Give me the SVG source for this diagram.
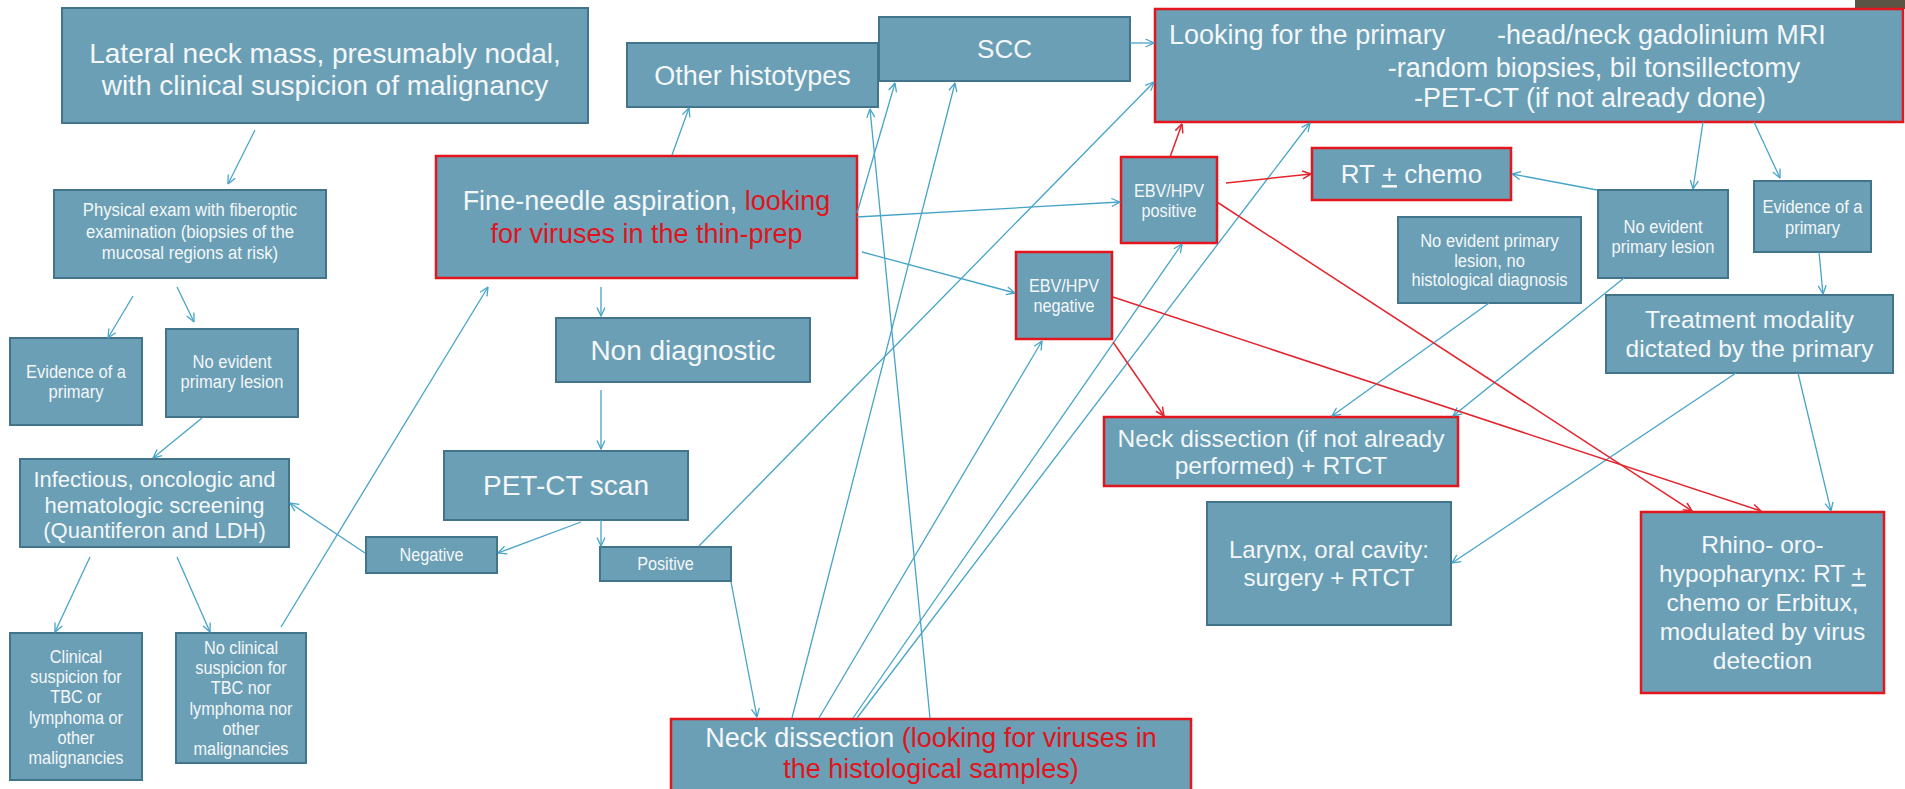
<svg xmlns="http://www.w3.org/2000/svg" width="1905" height="789" viewBox="0 0 1905 789">
<defs>
<style>
.box{fill:#6b9fb5;stroke:#42748c;stroke-width:2}
.rbox{fill:#6b9fb5;stroke:#e3151d;stroke-width:2.5}
.t{font-family:"Liberation Sans",Arial,sans-serif;fill:#f4f7f9}
.r{fill:#e0141c}
.u{text-decoration:underline}
.cb{stroke:#46a4c8;stroke-width:1.3;fill:none;marker-end:url(#ab)}
.cr{stroke:#e3252d;stroke-width:1.5;fill:none;marker-end:url(#ar)}
</style>
<marker id="ab" viewBox="0 0 10 10" refX="9.5" refY="5" markerWidth="10" markerHeight="10" markerUnits="userSpaceOnUse" orient="auto"><path d="M1,1 L9.5,5 L1,9" fill="none" stroke="#46a4c8" stroke-width="1.3"/></marker>
<marker id="ar" viewBox="0 0 10 10" refX="9.5" refY="5" markerWidth="10" markerHeight="10" markerUnits="userSpaceOnUse" orient="auto"><path d="M1,1 L9.5,5 L1,9" fill="none" stroke="#e3252d" stroke-width="1.5"/></marker>
</defs>
<rect x="0" y="0" width="1905" height="789" fill="#ffffff"/>
<rect x="1855" y="0" width="50" height="9" fill="#5b5444"/>

<g id="lateral"><rect class="box" x="62" y="8" width="526" height="115"/>
<text class="t" font-size="28" text-anchor="middle"><tspan x="325" y="63">Lateral neck mass, presumably nodal,</tspan><tspan x="325" y="95">with clinical suspicion of malignancy</tspan></text></g>

<g id="physical"><rect class="box" x="54" y="190" width="272" height="88"/>
<text class="t" font-size="19" text-anchor="middle" transform="translate(190 0) scale(0.88 1)"><tspan x="0" y="216">Physical exam with fiberoptic</tspan><tspan x="0" y="238">examination (biopsies of the</tspan><tspan x="0" y="259">mucosal regions at risk)</tspan></text></g>

<g id="evidence-left"><rect class="box" x="10" y="338" width="132" height="87"/>
<text class="t" font-size="19" text-anchor="middle" transform="translate(76 0) scale(0.87 1)"><tspan x="0" y="378">Evidence of a</tspan><tspan x="0" y="398">primary</tspan></text></g>

<g id="noevident-left"><rect class="box" x="166" y="329" width="132" height="88"/>
<text class="t" font-size="19" text-anchor="middle" transform="translate(232 0) scale(0.87 1)"><tspan x="0" y="368">No evident</tspan><tspan x="0" y="388">primary lesion</tspan></text></g>

<g id="infectious"><rect class="box" x="20" y="459" width="269" height="88"/>
<text class="t" font-size="22" text-anchor="middle"><tspan x="154.5" y="487">Infectious, oncologic and</tspan><tspan x="154.5" y="513">hematologic screening</tspan><tspan x="154.5" y="538">(Quantiferon and LDH)</tspan></text></g>

<g id="clinical"><rect class="box" x="10" y="633" width="132" height="147"/>
<text class="t" font-size="18.5" text-anchor="middle" transform="translate(76 0) scale(0.88 1)"><tspan x="0" y="663">Clinical</tspan><tspan x="0" y="683">suspicion for</tspan><tspan x="0" y="703">TBC or</tspan><tspan x="0" y="724">lymphoma or</tspan><tspan x="0" y="744">other</tspan><tspan x="0" y="764">malignancies</tspan></text></g>

<g id="noclinical"><rect class="box" x="176" y="633" width="130" height="130"/>
<text class="t" font-size="18.5" text-anchor="middle" transform="translate(241 0) scale(0.88 1)"><tspan x="0" y="654">No clinical</tspan><tspan x="0" y="674">suspicion for</tspan><tspan x="0" y="694">TBC nor</tspan><tspan x="0" y="715">lymphoma nor</tspan><tspan x="0" y="735">other</tspan><tspan x="0" y="755">malignancies</tspan></text></g>

<g id="fna"><rect class="rbox" x="436" y="156" width="421" height="122"/>
<text class="t" font-size="27" text-anchor="middle"><tspan x="646.5" y="210">Fine-needle aspiration, <tspan class="r">looking</tspan></tspan><tspan class="r" x="646.5" y="243">for viruses in the thin-prep</tspan></text></g>

<g id="other"><rect class="box" x="627" y="43" width="251" height="64"/>
<text class="t" font-size="27" text-anchor="middle" x="752.5" y="85">Other histotypes</text></g>

<g id="scc"><rect class="box" x="879" y="17" width="251" height="64"/>
<text class="t" font-size="26" text-anchor="middle" x="1004.5" y="58">SCC</text></g>

<g id="nondiag"><rect class="box" x="556" y="318" width="254" height="64"/>
<text class="t" font-size="28" text-anchor="middle" x="683" y="360">Non diagnostic</text></g>

<g id="petct"><rect class="box" x="444" y="451" width="244" height="69"/>
<text class="t" font-size="28" text-anchor="middle" x="566" y="495">PET-CT scan</text></g>

<g id="negative"><rect class="box" x="366" y="537" width="131" height="36"/>
<text class="t" font-size="18" text-anchor="middle" transform="translate(431.5 0) scale(0.9 1)" x="0" y="561">Negative</text></g>

<g id="positive"><rect class="box" x="600" y="547" width="131" height="34"/>
<text class="t" font-size="18" text-anchor="middle" transform="translate(665.5 0) scale(0.9 1)" x="0" y="570">Positive</text></g>

<g id="neckdiss"><rect class="rbox" x="671" y="719" width="520" height="82"/>
<text class="t" font-size="27" text-anchor="middle"><tspan x="931" y="747">Neck dissection <tspan class="r">(looking for viruses in</tspan></tspan><tspan class="r" x="931" y="778">the histological samples)</tspan></text></g>

<g id="ebvpos"><rect class="rbox" x="1121" y="157" width="96" height="86"/>
<text class="t" font-size="18" text-anchor="middle" transform="translate(1169 0) scale(0.9 1)"><tspan x="0" y="197">EBV/HPV</tspan><tspan x="0" y="217">positive</tspan></text></g>

<g id="ebvneg"><rect class="rbox" x="1016" y="252" width="96" height="87"/>
<text class="t" font-size="18" text-anchor="middle" transform="translate(1064 0) scale(0.9 1)"><tspan x="0" y="292">EBV/HPV</tspan><tspan x="0" y="312">negative</tspan></text></g>

<g id="looking"><rect class="rbox" x="1155" y="9" width="748" height="113"/>
<text class="t" font-size="27"><tspan x="1169" y="44">Looking for the primary</tspan><tspan x="1497" y="44">-head/neck gadolinium MRI</tspan></text>
<text class="t" font-size="27" text-anchor="middle"><tspan x="1594" y="77">-random biopsies, bil tonsillectomy</tspan><tspan x="1590" y="107">-PET-CT (if not already done)</tspan></text></g>

<g id="rtchemo"><rect class="rbox" x="1312" y="148" width="199" height="52"/>
<text class="t" font-size="26" text-anchor="middle" x="1411.5" y="183">RT <tspan class="u">+</tspan> chemo</text></g>

<g id="nohist"><rect class="box" x="1398" y="217" width="183" height="86"/>
<text class="t" font-size="19" text-anchor="middle" transform="translate(1489.5 0) scale(0.87 1)"><tspan x="0" y="247">No evident primary</tspan><tspan x="0" y="267">lesion, no</tspan><tspan x="0" y="286">histological diagnosis</tspan></text></g>

<g id="noevident-right"><rect class="box" x="1598" y="190" width="130" height="88"/>
<text class="t" font-size="19" text-anchor="middle" transform="translate(1663 0) scale(0.87 1)"><tspan x="0" y="233">No evident</tspan><tspan x="0" y="253">primary lesion</tspan></text></g>

<g id="evidence-right"><rect class="box" x="1754" y="181" width="117" height="71"/>
<text class="t" font-size="19" text-anchor="middle" transform="translate(1812.5 0) scale(0.87 1)"><tspan x="0" y="213">Evidence of a</tspan><tspan x="0" y="234">primary</tspan></text></g>

<g id="treatment"><rect class="box" x="1606" y="295" width="287" height="78"/>
<text class="t" font-size="24.5" text-anchor="middle"><tspan x="1749.5" y="328">Treatment modality</tspan><tspan x="1749.5" y="357">dictated by the primary</tspan></text></g>

<g id="neckdiss-right"><rect class="rbox" x="1104" y="417" width="354" height="69"/>
<text class="t" font-size="24.5" text-anchor="middle"><tspan x="1281" y="447">Neck dissection (if not already</tspan><tspan x="1281" y="474">performed) + RTCT</tspan></text></g>

<g id="larynx"><rect class="box" x="1207" y="502" width="244" height="123"/>
<text class="t" font-size="24" text-anchor="middle"><tspan x="1329" y="558">Larynx, oral cavity:</tspan><tspan x="1329" y="586">surgery + RTCT</tspan></text></g>

<g id="rhino"><rect class="rbox" x="1641" y="512" width="243" height="181"/>
<text class="t" font-size="24.5" text-anchor="middle"><tspan x="1762.5" y="553">Rhino- oro-</tspan><tspan x="1762.5" y="582">hypopharynx: RT <tspan class="u">+</tspan></tspan><tspan x="1762.5" y="611">chemo or Erbitux,</tspan><tspan x="1762.5" y="640">modulated by virus</tspan><tspan x="1762.5" y="669">detection</tspan></text></g>

<g id="connectors">
<line class="cb" x1="255" y1="130" x2="228" y2="184"/>
<line class="cb" x1="133" y1="296" x2="108" y2="338"/>
<line class="cb" x1="177" y1="287" x2="194" y2="322"/>
<line class="cb" x1="202" y1="418" x2="153" y2="458"/>
<line class="cb" x1="90" y1="557" x2="55" y2="632"/>
<line class="cb" x1="177" y1="557" x2="210" y2="632"/>
<line class="cb" x1="281" y1="627" x2="488" y2="287"/>
<line class="cb" x1="365" y1="553" x2="290" y2="503"/>
<line class="cb" x1="581" y1="522" x2="498" y2="553"/>
<line class="cb" x1="601" y1="520" x2="601" y2="546"/>
<line class="cb" x1="601" y1="287" x2="601" y2="316"/>
<line class="cb" x1="601" y1="390" x2="601" y2="449"/>
<line class="cb" x1="672" y1="155" x2="689" y2="108"/>
<line class="cb" x1="857" y1="213" x2="895" y2="83"/>
<line class="cb" x1="857" y1="217" x2="1120" y2="202"/>
<line class="cb" x1="862" y1="252" x2="1015" y2="293"/>
<line class="cb" x1="1130" y1="43" x2="1154" y2="43"/>
<line class="cb" x1="699" y1="546" x2="1154" y2="82"/>
<line class="cb" x1="731" y1="582" x2="757" y2="717"/>
<line class="cb" x1="930" y1="718" x2="870" y2="109"/>
<line class="cb" x1="792" y1="718" x2="955" y2="83"/>
<line class="cb" x1="819" y1="718" x2="1042" y2="341"/>
<line class="cb" x1="853" y1="718" x2="1182" y2="244"/>
<line class="cb" x1="857" y1="718" x2="1310" y2="123"/>
<line class="cb" x1="1597" y1="190" x2="1512" y2="174"/>
<line class="cb" x1="1703" y1="122" x2="1693" y2="189"/>
<line class="cb" x1="1754" y1="122" x2="1780" y2="178"/>
<line class="cb" x1="1819" y1="252" x2="1823" y2="294"/>
<line class="cb" x1="1489" y1="303" x2="1332" y2="416"/>
<line class="cb" x1="1624" y1="278" x2="1453" y2="416"/>
<line class="cb" x1="1736" y1="373" x2="1452" y2="563"/>
<line class="cb" x1="1798" y1="373" x2="1831" y2="511"/>
<line class="cr" x1="1170" y1="157" x2="1182" y2="124"/>
<line class="cr" x1="1226" y1="183" x2="1311" y2="174"/>
<line class="cr" x1="1217" y1="202" x2="1692" y2="511"/>
<line class="cr" x1="1113" y1="342" x2="1164" y2="416"/>
<line class="cr" x1="1113" y1="297" x2="1761" y2="511"/>
</g>
</svg>
